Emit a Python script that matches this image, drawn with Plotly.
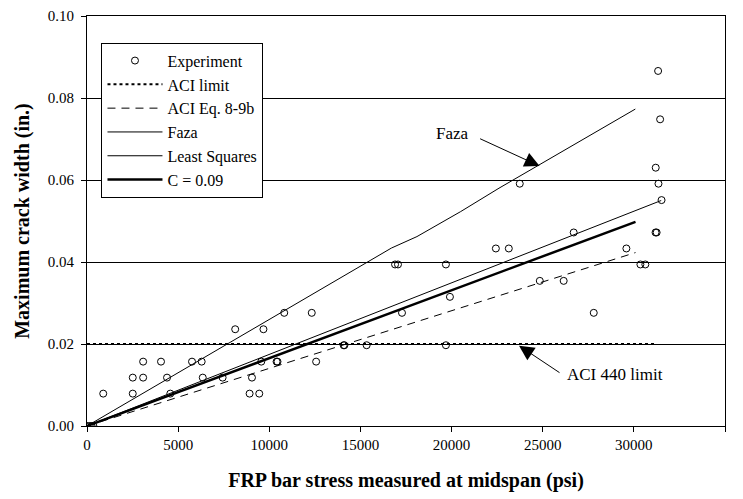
import plotly.graph_objects as go

# Experimental data (FRP bar stress in psi, max crack width in in.)
exp_x = [0, 150, 250, 350, 890, 2510, 2510, 3080, 3080, 4060, 4390, 4570, 5760, 6290, 6350,
         7440, 8130, 8920, 9450, 9050, 9560, 9680, 10400, 10450, 10820, 12330, 12570,
         14080, 14120, 15340, 16900, 17060, 17280, 19690, 19690, 19910, 22430, 23140,
         23740, 24840, 26150, 26700, 27800, 29590, 30360, 30630, 31190, 31250, 31200,
         31330, 31440, 31350, 31520]
exp_y = [0, 0, 0, 0, 0.0079, 0.0079, 0.0118, 0.0118, 0.0157, 0.0157, 0.0118, 0.0079, 0.0157,
         0.0157, 0.0118, 0.0118, 0.0236, 0.0079, 0.0079, 0.0118, 0.0157, 0.0236, 0.0157,
         0.0157, 0.0276, 0.0276, 0.0157, 0.0197, 0.0197, 0.0197, 0.0394, 0.0394, 0.0276,
         0.0394, 0.0197, 0.0315, 0.0433, 0.0433, 0.0591, 0.0354, 0.0354, 0.0472, 0.0276,
         0.0433, 0.0394, 0.0394, 0.0472, 0.0472, 0.0630, 0.0866, 0.0748, 0.0591, 0.0551]

aci_limit_x = [0, 31200]
aci_limit_y = [0.02, 0.02]
aci_eq_x = [0, 30090]
aci_eq_y = [0, 0.0423]
faza_x = [0, 16700, 18100, 20500, 22600, 30080]
faza_y = [0, 0.0434, 0.0462, 0.0523, 0.0580, 0.0773]
ls_x = [0, 31500]
ls_y = [0, 0.0550]
c09_x = [0, 30090]
c09_y = [0, 0.0498]

x_ticks = [0, 5000, 10000, 15000, 20000, 25000, 30000, 35000]
y_ticks = [0.00, 0.02, 0.04, 0.06, 0.08, 0.10]

FONT = "Liberation Serif"

fig = go.Figure()
fig.add_trace(go.Scatter(x=exp_x, y=exp_y, mode="markers", name="Experiment",
                         marker=dict(symbol="circle-open", size=7, color="black",
                                     line=dict(width=1, color="black"))))
fig.add_trace(go.Scatter(x=aci_limit_x, y=aci_limit_y, mode="lines", name="ACI limit",
                         line=dict(color="black", width=2, dash="3px,3px")))
fig.add_trace(go.Scatter(x=aci_eq_x, y=aci_eq_y, mode="lines", name="ACI Eq. 8-9b",
                         line=dict(color="black", width=1, dash="8px,6px")))
fig.add_trace(go.Scatter(x=faza_x, y=faza_y, mode="lines", name="Faza",
                         line=dict(color="black", width=1)))
fig.add_trace(go.Scatter(x=ls_x, y=ls_y, mode="lines", name="Least Squares",
                         line=dict(color="black", width=1)))
fig.add_trace(go.Scatter(x=c09_x, y=c09_y, mode="lines", name="C = 0.09",
                         line=dict(color="black", width=2.5)))

# annotations: text + arrows
fig.add_annotation(x=20070, y=0.0714, text="Faza", showarrow=False,
                   font=dict(family=FONT, size=17, color="black"))
fig.add_annotation(x=24830, y=0.0634, text="", showarrow=True, ax=-61, ay=-28,
                   arrowhead=2, arrowsize=3, arrowwidth=1, arrowcolor="black")
fig.add_annotation(x=23700, y=0.0196, text="", showarrow=True, ax=42, ay=28,
                   arrowhead=2, arrowsize=3, arrowwidth=1, arrowcolor="black")
fig.add_annotation(x=26200, y=0.0125, text="ACI 440 limit", showarrow=False,
                   xanchor="left", font=dict(family=FONT, size=17, color="black"))

fig.update_layout(
    width=743, height=499,
    margin=dict(l=86.5, r=17.5, t=15.5, b=72.5, autoexpand=False),
    paper_bgcolor="white", plot_bgcolor="white",
    font=dict(family=FONT, size=15, color="black"),
    showlegend=True,
    legend=dict(x=0.0227, y=0.935, xanchor="left", yanchor="top",
                bgcolor="white", bordercolor="black", borderwidth=1,
                font=dict(family=FONT, size=16, color="black"),
                itemwidth=55, traceorder="normal"),
    xaxis=dict(range=[0, 35000], tickvals=x_ticks, ticktext=[str(v) for v in x_ticks],
               showgrid=False, zeroline=False, showline=True, linecolor="black",
               linewidth=1, mirror=True, ticks="outside", ticklen=5, tickcolor="black",
               automargin=False,
               title=dict(text="<b>FRP bar stress measured at midspan (psi)</b>",
                          font=dict(family=FONT, size=20), standoff=20)),
    yaxis=dict(range=[0, 0.10], tickvals=y_ticks, ticktext=[f"{v:.2f}" for v in y_ticks],
               showgrid=True, gridcolor="black", gridwidth=1, zeroline=False,
               showline=True, linecolor="black", linewidth=1, mirror=True,
               ticks="outside", ticklen=5, tickcolor="black", automargin=False,
               ticklabelstandoff=4,
               title=dict(text="<b>Maximum crack width (in.)</b>",
                          font=dict(family=FONT, size=20), standoff=12)),
)

fig.write_html("out.html", config={"displayModeBar": False},
               post_script="document.body.style.margin='0px';")
